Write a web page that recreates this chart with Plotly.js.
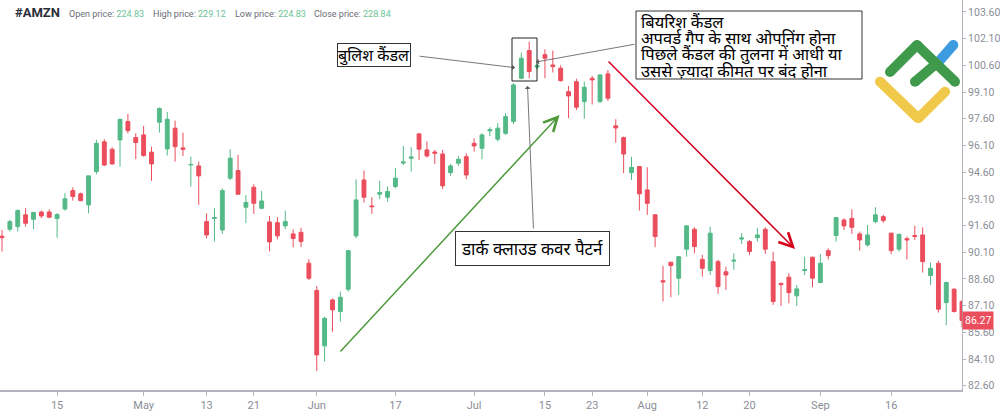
<!DOCTYPE html>
<html>
<head>
<meta charset="utf-8">
<script src="https://cdn.plot.ly/plotly-3.0.1.min.js"></script>
<style>
html,body{margin:0;padding:0;background:#fff;}
#chart{width:1000px;height:411px;}
</style>
</head>
<body>
<div id="chart"></div>
<script>
// ---- data (AMZN daily candles) ----
var dates = ['2019-04-04','2019-04-05','2019-04-08','2019-04-09','2019-04-10','2019-04-11','2019-04-12','2019-04-15','2019-04-16','2019-04-17','2019-04-18','2019-04-22','2019-04-23','2019-04-24','2019-04-25','2019-04-26','2019-04-29','2019-04-30',
'2019-05-01','2019-05-02','2019-05-03','2019-05-06','2019-05-07','2019-05-08','2019-05-09','2019-05-10','2019-05-13','2019-05-14','2019-05-15','2019-05-16','2019-05-17','2019-05-20','2019-05-21','2019-05-22','2019-05-23','2019-05-24','2019-05-28','2019-05-29','2019-05-30','2019-05-31',
'2019-06-03','2019-06-04','2019-06-05','2019-06-06','2019-06-07','2019-06-10','2019-06-11','2019-06-12','2019-06-13','2019-06-14','2019-06-17','2019-06-18','2019-06-19','2019-06-20','2019-06-21','2019-06-24','2019-06-25','2019-06-26','2019-06-27','2019-06-28',
'2019-07-01','2019-07-02','2019-07-03','2019-07-05','2019-07-08','2019-07-09','2019-07-10','2019-07-11','2019-07-12','2019-07-15','2019-07-16','2019-07-17','2019-07-18','2019-07-19','2019-07-22','2019-07-23','2019-07-24','2019-07-25','2019-07-26','2019-07-29','2019-07-30','2019-07-31',
'2019-08-01','2019-08-02','2019-08-05','2019-08-06','2019-08-07','2019-08-08','2019-08-09','2019-08-12','2019-08-13','2019-08-14','2019-08-15','2019-08-16','2019-08-19','2019-08-20','2019-08-21','2019-08-22','2019-08-23','2019-08-26','2019-08-27','2019-08-28','2019-08-29','2019-08-30',
'2019-09-03','2019-09-04','2019-09-05','2019-09-06','2019-09-09','2019-09-10','2019-09-11','2019-09-12','2019-09-13','2019-09-16','2019-09-17','2019-09-18','2019-09-19','2019-09-20','2019-09-23','2019-09-24','2019-09-25','2019-09-26','2019-09-27'];

var openP = [91.00,91.39,91.54,92.20,91.95,92.36,92.36,91.99,92.53,93.56,93.38,92.76,94.63,96.30,95.88,96.41,97.44,96.54,
96.69,95.72,97.40,95.90,97.07,95.96,95.00,94.95,91.82,92.00,91.35,94.26,94.69,92.63,93.75,92.57,91.80,91.76,91.58,91.13,91.22,89.48,
87.95,84.84,87.42,86.77,88.02,91.02,94.16,92.70,93.36,93.19,93.79,95.11,95.38,96.75,95.85,95.73,95.62,94.57,95.10,95.47,
96.22,95.94,96.92,96.45,96.78,97.44,99.87,101.43,100.50,101.20,100.62,100.44,99.12,99.68,98.56,99.87,98.56,100.12,97.20,96.54,94.57,94.91,
93.60,92.20,88.50,89.54,88.64,90.27,91.39,89.70,89.07,89.57,89.00,89.60,90.84,90.70,90.92,91.39,89.57,88.35,88.70,87.65,89.07,89.82,
88.40,90.19,91.04,91.91,92.00,91.13,90.51,91.82,92.10,91.17,90.27,90.86,91.04,91.07,88.79,89.48,87.27,88.02,87.33];

var highP = [91.35,91.92,92.51,92.57,92.38,92.44,92.51,92.29,93.41,93.75,93.45,94.39,96.41,96.45,96.00,97.57,97.87,96.78,
97.20,96.03,98.24,97.98,97.49,96.82,95.47,95.19,92.29,92.57,93.68,95.88,95.57,93.32,93.92,93.54,92.14,92.07,92.44,91.39,91.47,89.71,
88.20,86.48,87.50,87.89,90.23,94.20,94.69,93.19,94.11,93.79,94.82,96.07,96.00,96.75,96.32,95.85,95.85,95.06,95.51,95.66,
96.50,96.78,97.12,97.35,97.91,99.60,101.32,101.93,100.70,101.50,101.43,100.60,99.44,99.85,99.68,100.00,100.10,100.34,97.57,96.60,95.47,94.95,
94.87,92.25,89.33,89.54,89.85,91.63,91.50,89.95,91.54,89.67,89.29,90.04,91.17,90.79,91.45,91.50,90.13,88.40,88.92,88.26,89.85,89.85,
90.00,90.32,92.05,92.00,92.51,91.26,91.63,92.63,92.20,91.20,91.13,90.98,91.58,91.50,89.52,89.63,88.45,88.08,87.40];

var lowP = [90.14,91.26,91.26,91.54,91.39,92.01,92.01,90.92,92.44,93.00,92.96,92.29,94.48,94.95,95.02,94.91,96.78,95.32,
95.47,94.11,96.82,95.53,95.19,95.51,93.79,92.76,90.88,90.70,91.13,94.16,93.32,91.73,92.25,92.51,90.15,90.83,91.39,90.38,90.38,88.54,
83.43,83.96,85.64,86.20,87.89,90.89,92.89,92.25,93.08,92.94,93.69,95.00,94.63,95.28,95.42,95.06,93.64,94.39,94.95,94.20,
95.75,95.32,96.63,96.32,96.69,97.30,99.82,99.87,100.35,99.88,100.20,99.68,97.63,98.09,97.60,98.40,98.50,98.60,96.26,94.54,94.16,92.44,
92.20,90.38,87.33,87.57,87.70,89.85,90.04,88.73,88.82,87.76,87.98,89.11,90.57,89.95,90.70,90.00,87.14,87.08,87.23,87.08,88.82,88.13,
88.36,89.70,90.70,91.35,91.13,90.19,90.42,91.73,91.76,90.00,90.14,89.70,90.79,88.96,88.26,86.71,86.00,86.71,85.90];

var closeP = [90.92,91.82,92.44,91.73,92.33,92.14,92.07,92.22,93.10,93.23,93.00,94.39,96.22,95.00,95.06,97.57,96.93,96.26,
95.53,95.06,98.17,97.57,96.03,95.88,95.03,94.39,91.07,92.04,93.56,95.38,93.36,92.89,92.85,92.98,90.68,91.02,91.82,90.87,90.70,88.64,
84.33,86.39,86.86,87.57,90.19,93.04,93.19,92.66,93.45,93.51,94.26,95.17,95.45,95.89,95.51,95.66,93.83,94.95,95.32,94.44,
96.07,96.69,96.98,97.07,97.72,99.50,101.00,100.25,100.60,101.00,100.53,99.74,98.88,98.25,99.37,99.78,100.06,98.75,97.08,95.62,94.87,93.38,
92.85,90.98,88.43,89.35,89.85,91.58,90.42,89.20,91.17,88.17,88.82,89.65,90.90,90.14,91.07,90.27,87.33,88.28,87.83,88.04,89.13,88.64,
89.48,89.91,92.05,91.58,91.50,90.79,91.07,92.20,91.88,90.19,91.11,90.79,90.98,89.57,89.20,86.90,88.40,86.77,86.27];

var xTickVals = ['2019-04-15','2019-05-01','2019-05-13','2019-05-21','2019-06-03','2019-06-17','2019-07-01','2019-07-15','2019-07-23','2019-08-01','2019-08-12','2019-08-20','2019-09-03','2019-09-16'];
var xTickText = ['15','May','13','21','Jun','17','Jul','15','23','Aug','12','20','Sep','16'];
var yTickVals = [82.6,84.1,85.6,87.1,88.6,90.1,91.6,93.1,94.6,96.1,97.6,99.1,100.6,102.1,103.6];
var lastClose = 86.27;

var symbol = '#AMZN';
var headerLabels = ['Open price: ','High price: ','Low price: ','Close price: '];
var headerValues = ['224.83','229.12','224.83','228.84'];

var noteBullish = 'बुलिश कैंडल';
var noteBearishLines = ['बियरिश कैंडल','अपवर्ड गैप के साथ ओपनिंग होना','पिछले कैंडल की तुलना में आधी या','उससे ज़्यादा कीमत पर बंद होना'];
var notePattern = 'डार्क क्लाउड कवर पैटर्न';

// ---- layout helpers (pixel -> paper) ----
var W = 1000, H = 411, mL = 0, mR = 38, mT = 0, mB = 21;
var PW = W - mL - mR, PH = H - mT - mB;
function px(x){ return (x - mL) / PW; }
function py(y){ return 1 - (y - mT) / PH; }

var UP = '#53b987', DOWN = '#eb4d5c';
var AXC = '#b2b5be', TXC = '#8a8e97';

var trace = {
  type: 'candlestick',
  x: dates, open: openP, high: highP, low: lowP, close: closeP,
  increasing: {line: {color: UP, width: 1}, fillcolor: UP},
  decreasing: {line: {color: DOWN, width: 1}, fillcolor: DOWN},
  whiskerwidth: 0,
  hoverinfo: 'skip',
  showlegend: false
};

var dev = '"Noto Sans", "Noto Sans Devanagari", "Lohit Devanagari", "Mangal", sans-serif';

var annotations = [];
// header
annotations.push({xref:'paper', yref:'paper', x:px(13), y:py(13), xanchor:'left', yanchor:'middle', showarrow:false,
  text:'<b>'+symbol+'</b>', font:{family:'Roboto, Arial, sans-serif', size:13, color:'#2a2e39'}});
var hx = [67,151,233,312];
for (var k=0;k<4;k++){
  annotations.push({xref:'paper', yref:'paper', x:px(hx[k]), y:py(14), xanchor:'left', yanchor:'middle', showarrow:false,
    text: headerLabels[k] + '<span style="color:#6cc396">'+headerValues[k]+'</span>',
    font:{family:'Roboto, Arial, sans-serif', size:9, color:'#6a6d78'}});
}
// text boxes
annotations.push({xref:'paper', yref:'paper', x:px(374), y:py(55.5), xanchor:'center', yanchor:'middle', showarrow:false,
  text: noteBullish, font:{family:dev, size:16, color:'#000'}, bgcolor:'#fff', bordercolor:'#333', borderwidth:1, borderpad:0});
var lineY = [21, 37.5, 54, 70];
for (var j=0;j<noteBearishLines.length;j++){
  annotations.push({xref:'paper', yref:'paper', x:px(639), y:py(lineY[j]), xanchor:'left', yanchor:'middle', showarrow:false,
    text: noteBearishLines[j], font:{family:dev, size:16.5, color:'#000'}});
}
annotations.push({xref:'paper', yref:'paper', x:px(532.5), y:py(248.7), xanchor:'center', yanchor:'middle', showarrow:false,
  text: notePattern, font:{family:dev, size:17, color:'#000'}, bgcolor:'#fff', bordercolor:'#333', borderwidth:1, borderpad:5});
// pointer lines
function pointer(hx0, hy0, tx, ty, color, width, head, size){
  return {xref:'paper', yref:'paper', x:px(hx0), y:py(hy0), ax:tx-hx0, ay:ty-hy0, axref:'pixel', ayref:'pixel',
    text:'', showarrow:true, arrowhead:head, arrowsize:size, arrowwidth:width, arrowcolor:color, standoff:0, startstandoff:0};
}
annotations.push(pointer(515, 67.7, 418, 56, '#555', 0.8, 1, 1.2));
annotations.push(pointer(536, 62, 636, 44, '#555', 0.8, 1, 1.2));
annotations.push(pointer(527.5, 86, 533.5, 230, '#555', 0.8, 1, 1.2));
annotations.push(pointer(559.5, 115, 339, 353, '#4e9a3c', 1.5, 5, 1.8));
annotations.push(pointer(795, 249, 607, 60, '#d8001b', 1.5, 5, 1.8));
// last price label
annotations.push({xref:'paper', yref:'y', x:1, y:lastClose, xanchor:'left', yanchor:'middle', showarrow:false,
  text: lastClose.toFixed(2), font:{family:'Roboto, Arial, sans-serif', size:10.5, color:'#fff'}, bgcolor:DOWN, borderpad:2});

// shapes: boxes + logo
var shapes = [
  {type:'rect', xref:'paper', yref:'paper', x0:px(512), x1:px(537), y0:py(81), y1:py(38), line:{color:'#222', width:1}},
  {type:'rect', xref:'paper', yref:'paper', x0:px(636), x1:px(862), y0:py(79), y1:py(11), fillcolor:'#fff', line:{color:'#333', width:1}, layer:'above'}
];
function seg(x0,y0,x1,y1,color){
  return {type:'line', xref:'paper', yref:'paper', x0:px(x0), y0:py(y0), x1:px(x1), y1:py(y1), line:{color:color, width:10}, layer:'above'};
}
function dot(x,y,color){
  return {type:'circle', xref:'paper', yref:'paper', x0:px(x-5), x1:px(x+5), y0:py(y+5), y1:py(y-5), fillcolor:color, line:{width:0}, layer:'above'};
}
var LG='#3f9a4b', LB='#3d9be0', LY='#f0c84a';
shapes.push(seg(880,81.7,918.3,118.3,LY), seg(918.3,118.3,945,91.7,LY), dot(880,81.7,LY), dot(918.3,118.3,LY), dot(945,91.7,LY));
shapes.push(seg(936.7,64,953.3,45,LB), dot(953.3,45,LB));
shapes.push(seg(890,72,917,45,LG), seg(917,45,955,81.7,LG), seg(915,81.7,937,63,LG), dot(890,72,LG), dot(917,45,LG), dot(955,81.7,LG), dot(915,81.7,LG));

var layout = {
  width: W, height: H,
  margin: {l:mL, r:mR, t:mT, b:mB, pad:0},
  paper_bgcolor:'#fff', plot_bgcolor:'#fff',
  showlegend:false,
  hovermode:false,
  xaxis: {
    type:'category', range:[-0.254, 122.0], rangeslider:{visible:false},
    tickmode:'array', tickvals:xTickVals, ticktext:xTickText,
    showgrid:false, zeroline:false, showline:true, linecolor:AXC, linewidth:2,
    ticks:'outside', ticklen:4, tickcolor:AXC, tickfont:{family:'Roboto, Arial, sans-serif', size:11, color:TXC}
  },
  yaxis: {
    side:'right', range:[82.36, 104.27],
    tickmode:'array', tickvals:yTickVals, tickformat:'.2f',
    showgrid:false, zeroline:false, showline:true, linecolor:AXC, linewidth:1,
    ticks:'outside', ticklen:3, tickcolor:AXC, tickfont:{family:'Roboto, Arial, sans-serif', size:10.5, color:TXC}
  },
  annotations: annotations,
  shapes: shapes
};

Plotly.newPlot('chart', [trace], layout, {staticPlot:true, displayModeBar:false});
</script>
</body>
</html>
